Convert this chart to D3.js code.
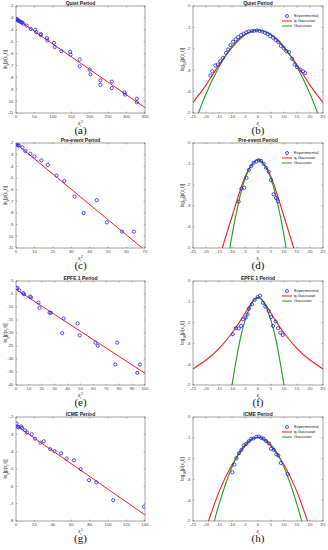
<!DOCTYPE html>
<html>
<head>
<meta charset="utf-8">
<script src="https://cdn.jsdelivr.net/npm/d3@7/dist/d3.min.js"></script>
<style>
  body { margin: 0; background: #fff; }
  svg { display: block; }
  .tick-label { font-family: "Liberation Sans", Arial, sans-serif; font-size: 4.3px; fill: #444; }
  .title { font-family: "Liberation Sans", Arial, sans-serif; font-size: 5px; font-weight: bold; fill: #222; }
  .axis-label { font-family: "Liberation Sans", Arial, sans-serif; font-size: 4.6px; fill: #222; }
  .legend { font-family: "Liberation Sans", Arial, sans-serif; font-size: 4.2px; fill: #222; }
  .panel-tag { font-family: "Liberation Serif", "Times New Roman", serif; font-size: 11px; fill: #111; }
</style>
</head>
<body>
<svg width="328" height="550"></svg>
<script>
// (a) Quiet period: ln_q vs x^2
const quietSqX = [0, 2, 5, 8, 10, 14, 17, 20, 29, 40, 52, 55, 67, 67, 84, 85, 103, 105, 123, 147, 148, 173, 173, 200, 202, 229, 229, 260, 260, 294, 296, 328, 328];
const quietSqY = [-3.1, -3.1, -3.2, -3.25, -3.3, -3.35, -3.4, -3.5, -3.65, -3.93, -4.0, -4.2, -4.35, -4.45, -4.7, -4.9, -5.1, -5.45, -5.8, -5.85, -6.1, -6.5, -7.07, -7.35, -7.75, -8.25, -8.64, -8.36, -8.9, -9.28, -9.45, -9.8, -10.1];
const quietFitX = [0, 350];
const quietFitY = [-3.06, -10.55];

// (b) Quiet period: log10 p(x)
const quietX = [-18.3, -17.6, -16.4, -15.4, -14.5, -13.5, -12.3, -11.5, -10.6, -9.6, -8.6, -7.6, -6.5, -5.5, -4.5, -3.5, -2.4, -1.4, -0.4, 0.6, 1.7, 2.7, 3.7, 4.7, 5.8, 6.8, 7.8, 8.8, 9.9, 10.9, 11.9, 13.1, 14.1, 15, 16.3, 17.3, 18.2];
const quietLogP = [-3.25, -3.05, -2.78, -2.73, -2.58, -2.42, -2.19, -2.03, -1.83, -1.67, -1.56, -1.45, -1.36, -1.3, -1.23, -1.19, -1.17, -1.16, -1.14, -1.17, -1.2, -1.25, -1.31, -1.41, -1.48, -1.59, -1.69, -1.86, -1.98, -2.11, -2.16, -2.47, -2.73, -2.86, -2.97, -3.05, -3.13];
const quietQX = [-25, -20, -15, -10, -5, 0, 5, 10, 15, 20, 25];
const quietQY = [-4.5, -3.7, -2.75, -1.95, -1.35, -1.13, -1.35, -1.95, -2.75, -3.7, -4.5];
const quietGX = [-23.5, -20, -15, -10, -5, 0, 5, 10, 15, 20, 23.5];
const quietGY = [-5.2, -4.1, -2.85, -1.9, -1.32, -1.13, -1.32, -1.9, -2.85, -4.1, -5.2];

// (c) Pre-event period
const preSqX = [0.4, 0.9, 1.6, 3.5, 5.1, 7.8, 10, 13.8, 17.3, 22, 26.2, 31.8, 36.7, 43.8, 49.3, 57.5, 64];
const preSqY = [-2.06, -2.2, -2.23, -2.37, -2.69, -2.92, -3.15, -3.49, -3.87, -4.79, -5.25, -6.6, -8.0, -6.9, -8.8, -9.6, -9.6];
const preFitX = [0, 68.5];
const preFitY = [-2.05, -11];

// (d) Pre-event period
const preX = [-7.4, -6.4, -5.3, -4.4, -3.5, -2.6, -1.7, -0.6, 0.3, 1.2, 2.2, 3.1, 4.1, 5, 6, 6.9, 7.7];
const preLogP = [-2.79, -2.18, -2.13, -1.66, -1.28, -1.1, -0.95, -0.87, -0.82, -0.85, -0.99, -1.18, -1.37, -1.77, -2.44, -2.62, -2.78];
const preQX = [-15, -12.5, -10, -7.5, -5, -2.5, 0, 2.5, 5, 7.5, 10, 12.5, 15];
const preQY = [-5.5, -4.5, -3.5, -2.5, -1.6, -1.05, -0.8, -1.05, -1.6, -2.5, -3.5, -4.5, -5.5];
const preGX = [-11, -10, -7.5, -5, -2.5, 0, 2.5, 5, 7.5, 10, 11];
const preGY = [-5.2, -4.4, -2.85, -1.7, -1.05, -0.8, -1.05, -1.7, -2.85, -4.4, -5.2];

// (e) EPFE 1 period
const epfeSqX = [0.5, 1, 2.6, 5.7, 6.2, 10.9, 11.7, 17.4, 18.2, 26, 27, 36.9, 35.8, 47.8, 49.4, 61.6, 63.4, 78.4, 76.9, 94, 96.1];
const epfeSqY = [-2.6, -2.8, -3.6, -4.7, -5.1, -6.0, -6.3, -8.3, -10.3, -12.2, -12.2, -14.4, -20.1, -16.3, -20.9, -23.7, -24.9, -23.7, -32.1, -35.3, -32.1];
const epfeFitX = [0, 100];
const epfeFitY = [-3.2, -35.5];

// (f) EPFE 1 period
const epfeX = [-9.7, -8.5, -7.4, -6.5, -5.8, -4.7, -4.0, -3.5, -2.3, -1.3, -0.1, 0.8, 1.9, 2.8, 4.1, 5, 5.8, 6.8, 7.7, 8.6, 9.5];
const epfeLogP = [-2.56, -2.27, -2.28, -2.16, -1.84, -1.76, -1.6, -1.33, -1.12, -0.91, -0.77, -0.7, -1.05, -1.23, -1.44, -1.73, -2.16, -1.95, -2.27, -2.48, -2.6];
const epfeQX = [-25, -20, -15, -10, -7.5, -5, -2.5, 0, 2.5, 5, 7.5, 10, 15, 20, 25];
const epfeQY = [-4.23, -3.8, -3.25, -2.5, -2.05, -1.55, -1.05, -0.78, -1.05, -1.55, -2.05, -2.5, -3.25, -3.8, -4.23];
const epfeGX = [-10.5, -10, -7.5, -5, -2.5, 0, 2.5, 5, 7.5, 10, 10.5];
const epfeGY = [-5.4, -5.0, -3.2, -1.9, -1.1, -0.8, -1.1, -1.9, -3.2, -5.0, -5.4];

// (g) ICME period
const icmeSqX = [0.7, 1.8, 2.9, 5.5, 6.5, 9.8, 12, 17.1, 20.7, 26.5, 30.2, 37.1, 41.8, 49, 55, 62.9, 70.2, 79.3, 87.3, 105.5, 139];
const icmeSqY = [-2.38, -2.57, -2.6, -2.55, -2.63, -2.77, -2.9, -3.0, -3.25, -3.48, -3.4, -3.86, -3.97, -4.1, -4.4, -4.5, -5.0, -5.64, -5.77, -6.8, -7.17];
const icmeFitX = [0, 140];
const icmeFitY = [-2.48, -7.65];

// (h) ICME period
const icmeX = [-9.9, -9.1, -8.3, -7.3, -6.4, -5.5, -4.5, -3.5, -2.6, -1.7, -0.6, 0.3, 1.2, 2.2, 3.1, 4.2, 5, 6, 7.1, 7.8, 8.8, 11.4];
const icmeLogP = [-2.66, -2.29, -1.98, -1.74, -1.58, -1.37, -1.29, -1.16, -1.05, -1.03, -0.95, -0.94, -1.0, -1.05, -1.16, -1.27, -1.53, -1.58, -1.8, -1.85, -2.21, -2.74];
const icmeQX = [-20, -15, -10, -5, 0, 5, 10, 15, 20];
const icmeQY = [-5.35, -3.6, -2.3, -1.4, -0.97, -1.4, -2.3, -3.6, -5.35];
const icmeGX = [-17.5, -15, -10, -5, 0, 5, 10, 15, 17.5];
const icmeGY = [-5.35, -4.2, -2.4, -1.33, -0.97, -1.33, -2.4, -4.2, -5.35];

// tick values
const quietSqTicksX = d3.range(0, 351, 50);
const sqTicksY11 = d3.range(-11, -1, 1);
const preSqTicksX = d3.range(0, 71, 10);
const epfeSqTicksX = d3.range(0, 101, 10);
const epfeSqTicksY = d3.range(-40, 1, 5);
const icmeSqTicksX = d3.range(0, 141, 20);
const icmeSqTicksY = d3.range(-8, -1, 1);
const xiTicks = d3.range(-25, 26, 5);
const logTicks = d3.range(-5, 1, 1);

const titles = ["Quiet Period", "Pre-event Period", "EPFE 1 Period", "ICME Period"];
const tags = [["(a)", "(b)"], ["(c)", "(d)"], ["(e)", "(f)"], ["(g)", "(h)"]];

const svg = d3.select("svg");
const blue = "#1f1fff", red = "#ff1a1a", green = "#1e9e1e";

const rowTop = [6, 143, 281, 417];
const rowBot = [113, 248, 385, 521];
const leftX = [16, 145];
const rightX = [193, 323];

let clipId = 0;

function subText(sel, parts) {
  // parts: [text, shift] where shift is "sub", "super" or null
  parts.forEach(([t, s]) => {
    const ts = sel.append("tspan").text(t);
    if (s === "sub") ts.attr("baseline-shift", "sub").style("font-size", "3.3px");
    if (s === "super") ts.attr("baseline-shift", "super").style("font-size", "3.3px");
  });
}

function drawPanel(opt) {
  const x = d3.scaleLinear().domain(opt.xDomain).range(opt.xRange);
  const y = d3.scaleLinear().domain(opt.yDomain).range([opt.bottom, opt.top]);
  const g = svg.append("g");
  const id = "clip" + (clipId++);
  svg.append("clipPath").attr("id", id).append("rect")
    .attr("x", opt.xRange[0]).attr("y", opt.top)
    .attr("width", opt.xRange[1] - opt.xRange[0]).attr("height", opt.bottom - opt.top);

  // box
  g.append("rect")
    .attr("x", opt.xRange[0]).attr("y", opt.top)
    .attr("width", opt.xRange[1] - opt.xRange[0]).attr("height", opt.bottom - opt.top)
    .attr("fill", "#fff").attr("stroke", "#444").attr("stroke-width", 0.5);

  // ticks inward on all four sides
  const tl = 1.4;
  opt.xTicks.forEach(v => {
    g.append("line").attr("x1", x(v)).attr("x2", x(v)).attr("y1", opt.bottom).attr("y2", opt.bottom - tl)
      .attr("stroke", "#444").attr("stroke-width", 0.4);
    g.append("line").attr("x1", x(v)).attr("x2", x(v)).attr("y1", opt.top).attr("y2", opt.top + tl)
      .attr("stroke", "#444").attr("stroke-width", 0.4);
    g.append("text").attr("class", "tick-label").attr("x", x(v)).attr("y", opt.bottom + 5.4)
      .attr("text-anchor", "middle").text(v);
  });
  opt.yTicks.forEach(v => {
    g.append("line").attr("x1", opt.xRange[0]).attr("x2", opt.xRange[0] + tl).attr("y1", y(v)).attr("y2", y(v))
      .attr("stroke", "#444").attr("stroke-width", 0.4);
    g.append("line").attr("x1", opt.xRange[1]).attr("x2", opt.xRange[1] - tl).attr("y1", y(v)).attr("y2", y(v))
      .attr("stroke", "#444").attr("stroke-width", 0.4);
    g.append("text").attr("class", "tick-label").attr("x", opt.xRange[0] - 2.5).attr("y", y(v) + 1.4)
      .attr("text-anchor", "end").text(v);
  });

  // title
  g.append("text").attr("class", "title").attr("x", (opt.xRange[0] + opt.xRange[1]) / 2).attr("y", opt.top - 1.5)
    .attr("text-anchor", "middle").text(opt.title);

  // x label
  const xl = g.append("text").attr("class", "axis-label")
    .attr("x", (opt.xRange[0] + opt.xRange[1]) / 2).attr("y", opt.bottom + 11.5).attr("text-anchor", "middle");
  subText(xl, opt.xLabel);

  // y label
  const cy = (opt.top + opt.bottom) / 2;
  const yl = g.append("text").attr("class", "axis-label")
    .attr("transform", `translate(${opt.yLabelX},${cy}) rotate(-90)`).attr("text-anchor", "middle");
  subText(yl, opt.yLabel);

  // panel tag
  g.append("text").attr("class", "panel-tag").attr("x", (opt.xRange[0] + opt.xRange[1]) / 2)
    .attr("y", opt.bottom + 21).attr("text-anchor", "middle").text(opt.tag);

  const plot = g.append("g").attr("clip-path", `url(#${id})`);

  // lines
  opt.lines.forEach(l => {
    const pts = l.xs.map((v, i) => [v, l.ys[i]]);
    plot.append("path")
      .attr("d", d3.line().x(d => x(d[0])).y(d => y(d[1])).curve(l.xs.length > 2 ? d3.curveNatural : d3.curveLinear)(pts))
      .attr("fill", "none").attr("stroke", l.color).attr("stroke-width", l.width);
  });

  // points
  const pts = opt.px.map((v, i) => [v, opt.py[i]]);
  plot.selectAll("circle.pt").data(pts).enter().append("circle")
    .attr("class", "pt")
    .attr("cx", d => x(d[0])).attr("cy", d => y(d[1])).attr("r", 1.6)
    .attr("fill", "none").attr("stroke", blue).attr("stroke-width", 0.8);

  // legend
  if (opt.legend) {
    const lx = opt.xRange[1] - 41, ly = opt.top + 10;
    const items = [["Experimental", "marker"], ["q-Gaussian", red], ["Gaussian", green]];
    items.forEach((it, i) => {
      const yy = ly + i * 5;
      if (it[1] === "marker") {
        g.append("circle").attr("cx", lx + 5).attr("cy", yy).attr("r", 1.5)
          .attr("fill", "none").attr("stroke", blue).attr("stroke-width", 0.8);
      } else {
        g.append("line").attr("x1", lx).attr("x2", lx + 10).attr("y1", yy).attr("y2", yy)
          .attr("stroke", it[1]).attr("stroke-width", 1);
      }
      g.append("text").attr("class", "legend").attr("x", lx + 12).attr("y", yy + 1.4).text(it[0]);
    });
  }
}

const lnLabel = [["ln", null], ["q", "sub"], ["[p(x", null], ["i", "sub"], [",t)]", null]];
const logLabel = [["log", null], ["10", "sub"], ["[p(x", null], ["i", "sub"], [",t)]", null]];
const sqLabel = [["x", null], ["i", "sub"], ["2", "super"]];
const xiLabel = [["x", null], ["i", "sub"]];

const leftPanels = [
  { px: quietSqX, py: quietSqY, fx: quietFitX, fy: quietFitY, xd: [0, 350], yd: [-11, -2], xt: quietSqTicksX, yt: sqTicksY11 },
  { px: preSqX, py: preSqY, fx: preFitX, fy: preFitY, xd: [0, 70], yd: [-11, -2], xt: preSqTicksX, yt: sqTicksY11 },
  { px: epfeSqX, py: epfeSqY, fx: epfeFitX, fy: epfeFitY, xd: [0, 100], yd: [-40, 0], xt: epfeSqTicksX, yt: epfeSqTicksY },
  { px: icmeSqX, py: icmeSqY, fx: icmeFitX, fy: icmeFitY, xd: [0, 140], yd: [-8, -2], xt: icmeSqTicksX, yt: icmeSqTicksY }
];
const rightPanels = [
  { px: quietX, py: quietLogP, qx: quietQX, qy: quietQY, gx: quietGX, gy: quietGY },
  { px: preX, py: preLogP, qx: preQX, qy: preQY, gx: preGX, gy: preGY },
  { px: epfeX, py: epfeLogP, qx: epfeQX, qy: epfeQY, gx: epfeGX, gy: epfeGY },
  { px: icmeX, py: icmeLogP, qx: icmeQX, qy: icmeQY, gx: icmeGX, gy: icmeGY }
];

leftPanels.forEach((p, i) => {
  drawPanel({
    xDomain: p.xd, yDomain: p.yd, xRange: leftX, top: rowTop[i], bottom: rowBot[i],
    xTicks: p.xt, yTicks: p.yt, title: titles[i], tag: tags[i][0],
    xLabel: sqLabel, yLabel: lnLabel, yLabelX: 6.5,
    px: p.px, py: p.py,
    lines: [{ xs: p.fx, ys: p.fy, color: red, width: 1 }]
  });
});

rightPanels.forEach((p, i) => {
  drawPanel({
    xDomain: [-25, 25], yDomain: [-5, 0], xRange: rightX, top: rowTop[i], bottom: rowBot[i],
    xTicks: xiTicks, yTicks: logTicks, title: titles[i], tag: tags[i][1],
    xLabel: xiLabel, yLabel: logLabel, yLabelX: 183.5,
    px: p.px, py: p.py, legend: true,
    lines: [
      { xs: p.qx, ys: p.qy, color: red, width: 1.1 },
      { xs: p.gx, ys: p.gy, color: green, width: 1.1 }
    ]
  });
});
</script>
</body>
</html>
